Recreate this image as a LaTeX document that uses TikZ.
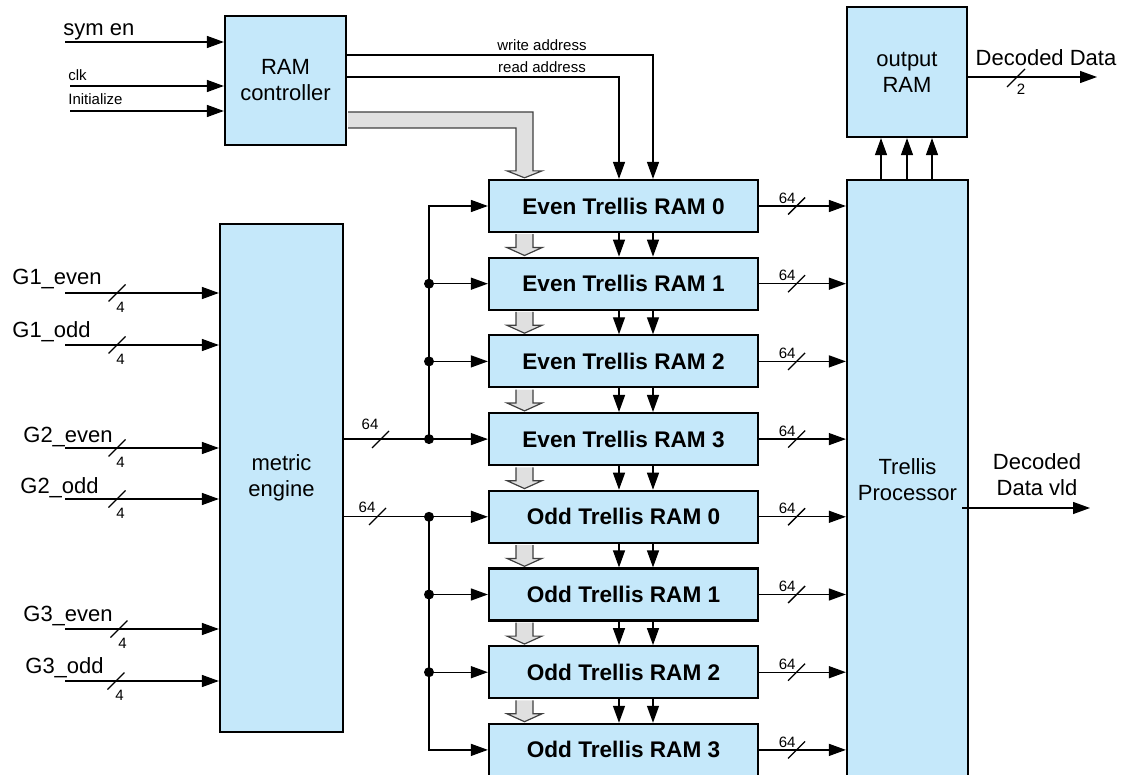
\documentclass[tikz,border=0pt]{standalone}
\usepackage{fontspec}
\setmainfont{Liberation Sans}
\usetikzlibrary{arrows.meta,calc}
\definecolor{boxblue}{RGB}{197,232,250}
\definecolor{busgray}{RGB}{224,224,224}
\begin{document}
\begin{tikzpicture}[x=0.5pt,y=-0.5pt,
  blk/.style={draw=black,line width=1.1pt,fill=boxblue,inner sep=0pt,align=center,font=\fontsize{11}{13}\selectfont},
  ram/.style={blk,minimum width=134.5pt,minimum height=26pt,font=\fontsize{11.3}{13}\selectfont\bfseries},
  arr/.style={line width=0.65pt,-{Triangle[length=8.5pt,width=6pt]}},
  wire/.style={line width=0.65pt},
  lbl/.style={font=\fontsize{11}{13}\selectfont,inner sep=0pt},
  slbl/.style={font=\fontsize{7.5}{9}\selectfont,inner sep=0pt},
  jdot/.style={circle,fill=black,inner sep=0pt,minimum size=5pt},
  bus/.style={draw=black!75,line width=0.6pt,fill=busgray,line join=miter},
]
\useasboundingbox (0,0) rectangle (1125,775);
\begin{scope}
\clip (0,0) rectangle (1125,775);

% main blocks
\node[blk,minimum width=60.5pt,minimum height=64.5pt] (ctrl) at (285.5,80.5) {RAM\\controller};
\node[blk,minimum width=60pt,minimum height=65pt] (outram) at (907,72) {output\\RAM};
\node[blk,minimum width=61.5pt,minimum height=254pt] (metric) at (281.5,478) {metric\\engine};
\node[blk,minimum width=60.5pt,minimum height=300pt] (tp) at (907.5,480) {Trellis\\Processor};

\foreach \n/\t [count=\i from 0] in {e0/Even Trellis RAM 0,e1/Even Trellis RAM 1,e2/Even Trellis RAM 2,e3/Even Trellis RAM 3,o0/Odd Trellis RAM 0,o1/Odd Trellis RAM 1,o2/Odd Trellis RAM 2,o3/Odd Trellis RAM 3}
  \node[ram] (\n) at (623.5,{206+77.7*\i}) {\t};

% helper coordinates
\coordinate (gl) at (516,0);
\coordinate (gr) at (533,0);
\coordinate (gc) at (524.5,0);
\coordinate (wl) at (507,0);
\coordinate (wr) at (542,0);
\coordinate (bt) at (0,112);
\coordinate (bb) at (0,128);
\coordinate (wa) at (653,55);
\coordinate (ra) at (619,77);

% gray bus from controller
\draw[bus] ($(ctrl.east |- bt)+(1.1,0)$) -- (gr |- bt) -- ($(e0.north -| gr)+(0,-8)$) -- ($(e0.north -| wr)+(0,-8)$) -- ($(e0.north -| gc)+(0,-1.1)$) -- ($(e0.north -| wl)+(0,-8)$) -- ($(e0.north -| gl)+(0,-8)$) -- (gl |- bb) -- ($(ctrl.east |- bb)+(1.1,0)$);

% gray arrows between RAMs and address arrows
\foreach \a/\b in {e0/e1,e1/e2,e2/e3,e3/o0,o0/o1,o1/o2,o2/o3} {
  \draw[bus] ($(\a.south -| gl)+(0,1.1)$) -- ($(\b.north -| gl)+(0,-9)$) -- ($(\b.north -| wl)+(0,-9)$) -- ($(\b.north -| gc)+(0,-1.1)$) -- ($(\b.north -| wr)+(0,-9)$) -- ($(\b.north -| gr)+(0,-9)$) -- ($(\a.south -| gr)+(0,1.1)$);
  \draw[arr] (\a.south -| wa) -- (\b.north -| wa);
  \draw[arr] (\a.south -| ra) -- (\b.north -| ra);
}

% address lines
\draw[arr] (ctrl.east |- wa) -- (wa) -- (e0.north -| wa);
\draw[arr] (ctrl.east |- ra) -- (ra) -- (e0.north -| ra);
\node[slbl] (lwa) at (542,45) {write address};
\node[slbl] (lra) at (542,67) {read address};

% controller inputs
\coordinate (symin) at (65,42);
\coordinate (clkin) at (70,86);
\coordinate (iniin) at (70,111);
\draw[arr] (symin) -- (symin -| ctrl.west);
\draw[arr] (clkin) -- (clkin -| ctrl.west);
\draw[arr] (iniin) -- (iniin -| ctrl.west);
\node[lbl,anchor=base west] (lsym) at (63,36) {sym en};
\node[slbl,anchor=base west] (lclk) at (68,81) {clk};
\node[slbl,anchor=base west] (lini) at (68,105) {Initialize};

% metric engine inputs
\foreach \t/\y/\lx/\ly/\sx [count=\i] in {G1\_even/293/12/285/117,G1\_odd/345/12/338/117,G2\_even/448/23/442/117,G2\_odd/499/20/493/117,G3\_even/629/23/621/119,G3\_odd/681/25/673/116} {
  \coordinate (gin\i) at (65,\y);
  \draw[arr] (gin\i) -- (gin\i -| metric.west);
  \draw[wire] (\sx-8.5,\y+8.5) -- (\sx+8.5,\y-8.5);
  \node[slbl] (gw\i) at (\sx+3.5,\y+14) {4};
  \node[lbl,anchor=base west] (gl\i) at (\lx,\ly) {\t};
}

% metric engine outputs: even bus
\coordinate (be) at (429,0);
\draw[arr] (metric.east |- e3.west) -- (e3.west);
\draw[arr] (be |- e3.west) -- (be |- e0.west) -- (e0.west);
\draw[arr] (be |- e1.west) -- (e1.west);
\draw[arr] (be |- e2.west) -- (e2.west);
\foreach \n in {e1,e2,e3} \node[jdot] (d\n) at (be |- \n.west) {};
\draw[wire] (372,448) -- (389,431);
\node[slbl] (me) at (370,424) {64};

% odd bus
\draw[arr] (metric.east |- o0.west) -- (o0.west);
\draw[arr] (be |- o0.west) -- (be |- o3.west) -- (o3.west);
\draw[arr] (be |- o1.west) -- (o1.west);
\draw[arr] (be |- o2.west) -- (o2.west);
\foreach \n in {o0,o1,o2} \node[jdot] (d\n) at (be |- \n.west) {};
\draw[wire] (369,525) -- (386,508);
\node[slbl] (mo) at (367,507) {64};

% RAM outputs to trellis processor
\foreach \n in {e0,e1,e2,e3,o0,o1,o2,o3} {
  \draw[arr] (\n.east) -- (\n.east -| tp.west);
  \draw[wire] ($(\n.east)+(29,8.5)$) -- ($(\n.east)+(46,-8.5)$);
  \node[slbl] (w\n) at ($(\n.east)+(28,-8)$) {64};
}

% trellis processor to output RAM
\coordinate (u1) at (881,0);
\coordinate (u2) at (907,0);
\coordinate (u3) at (932,0);
\foreach \u in {u1,u2,u3} \draw[arr] (tp.north -| \u) -- (outram.south -| \u);

% decoded data
\coordinate (dd) at (1097,77);
\draw[arr] (outram.east |- dd) -- (dd);
\draw[wire] (1007,87) -- (1025,69);
\node[slbl] (l2) at (1021,89) {2};
\node[lbl] (ldd) at (1046,58) {Decoded Data};

% decoded data valid
\coordinate (dvs) at (962,508);
\coordinate (dv) at (1090,508);
\draw[arr] (dvs) -- (dv);
\node[lbl,align=center] (ldv) at (1037,475) {Decoded\\Data vld};
\end{scope}
\end{tikzpicture}
\end{document}
